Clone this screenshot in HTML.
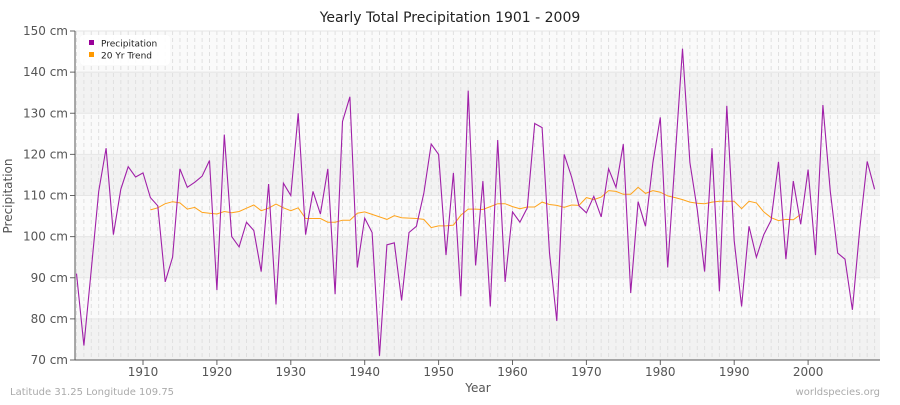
<!DOCTYPE html>
<html><head><meta charset="utf-8">
<style>
body{margin:0;background:#fff;font-family:"Liberation Sans","DejaVu Sans",sans-serif;}
svg text{font-family:"DejaVu Sans","Liberation Sans",sans-serif;}
</style></head>
<body>
<svg id="chart" width="900" height="400" viewBox="0 0 900 400">
<text x="450" y="22" text-anchor="middle" font-size="14" fill="#222">Yearly Total Precipitation 1901 - 2009</text>
<g id="bands"></g>
<g id="grid"></g>
<g id="axes"></g>
<g id="series"></g>
<text x="12" y="196" transform="rotate(-90 12 196)" text-anchor="middle" font-size="12" fill="#555">Precipitation</text>
<text x="478" y="392" text-anchor="middle" font-size="12" fill="#555">Year</text>
<text x="10" y="395" font-size="10" fill="#aaa">Latitude 31.25 Longitude 109.75</text>
<text x="880" y="395" text-anchor="end" font-size="10" fill="#aaa">worldspecies.org</text>
<g>
<rect x="80" y="35" width="90" height="30" rx="4" fill="#fff" opacity="0.9"/>
<rect x="89" y="40" width="5" height="5" fill="#990099"/>
<text x="101" y="46.5" font-size="9" fill="#222">Precipitation</text>
<rect x="89" y="52" width="5" height="5" fill="#ff9900"/>
<text x="101" y="58.5" font-size="9" fill="#222">20 Yr Trend</text>
</g>
</svg>
<script>
const yTicks=[70,80,90,100,110,120,130,140,150];
const xTicks=[1910,1920,1930,1940,1950,1960,1970,1980,1990,2000];
const precipValues=[91,73.5,92,111,121.5,100.5,111.5,117,114.5,115.5,109.5,107.5,89,95,116.5,112,113.2,114.7,118.5,87,124.8,100,97.5,103.5,101.5,91.5,112.8,83.5,113,110,130,100.5,111,105.5,116.5,86,128,134,92.5,104.5,101,71,98,98.5,84.5,101,102.5,110.5,122.5,120,95.5,115.5,85.5,135.5,93,113.5,83,123.5,89,106,103.5,107,127.5,126.5,96,79.5,120,114.5,107.5,105.8,109.8,104.8,116.5,112,122.5,86.3,108.5,102.5,118,129,92.5,119,145.7,118,106.5,91.5,121.5,86.7,131.8,99,83,102.5,95,100.5,104,118.2,94.5,113.5,103,116.3,95.5,132,111,96,94.5,82.2,102,118.3,111.5];
const trendStart=1911;
const trendValues=[106.5,107,108,108.5,108.2,106.7,107.1,105.9,105.7,105.5,106.1,105.8,106.1,106.9,107.7,106.3,106.9,107.9,107,106.3,107,104.4,104.4,104.4,103.5,103.5,104,104,105.7,106,105.4,104.8,104.2,105.1,104.6,104.5,104.4,104.2,102.2,102.6,102.6,102.8,105.2,106.7,106.7,106.6,107.3,108,108,107.3,106.8,107.2,107.2,108.4,107.8,107.6,107.1,107.7,107.6,109.5,109,109.6,111.2,111,110.3,110.3,112,110.5,111.2,110.8,109.9,109.5,109,108.4,108.1,108,108.4,108.6,108.6,108.6,106.8,108.6,108.2,106,104.6,103.9,104.2,104.1,105.4];
const startYear=1901;
const L=75,R=880,T=31,B=360;
const x=yr=>143+(yr-1910)*7.39;
const y=v=>B-(v-70)*(B-T)/80;
const NS='http://www.w3.org/2000/svg';
function mk(tag,attrs,parent){const e=document.createElementNS(NS,tag);for(const k in attrs)e.setAttribute(k,attrs[k]);parent.appendChild(e);return e;}
const bands=document.getElementById('bands'),grid=document.getElementById('grid'),axes=document.getElementById('axes'),series=document.getElementById('series');
mk('rect',{x:L,y:T,width:R-L,height:B-T,fill:'#fafafa'},bands);
for(let i=0;i<yTicks.length-1;i++){
  if(i%2===0){const r=mk('rect',{x:L,y:y(yTicks[i+1]),width:R-L,height:y(yTicks[i])-y(yTicks[i+1]),fill:'#f2f2f2'},bands);
  
  }
}
for(let yr=startYear;yr<=2009;yr++){
  mk('line',{x1:x(yr),x2:x(yr),y1:T,y2:B,stroke:'#e0e0e0','stroke-width':1,'stroke-dasharray':'4,3'},grid);
}
yTicks.forEach(v=>{
  mk('line',{x1:L,x2:R,y1:y(v),y2:y(v),stroke:'#e6e6e6','stroke-width':1},grid);
  mk('line',{x1:L-5,x2:L,y1:y(v),y2:y(v),stroke:'#666'},axes);
  const t=mk('text',{x:L-7,y:y(v)+4,'text-anchor':'end','font-size':12,fill:'#555'},axes);
  t.textContent=v+' cm';
  
  
});
xTicks.forEach(v=>{
  mk('line',{x1:x(v),x2:x(v),y1:B,y2:B+5,stroke:'#666'},axes);
  const t=mk('text',{x:x(v),y:B+16,'text-anchor':'middle','font-size':12,fill:'#555'},axes);
  t.textContent=v;
  
  
});
mk('line',{x1:L,x2:L,y1:T,y2:B,stroke:'#555'},axes);
mk('line',{x1:L,x2:R,y1:B,y2:B,stroke:'#555'},axes);
const tp=trendValues.map((v,i)=>x(trendStart+i).toFixed(1)+','+y(v).toFixed(1)).join(' ');
const tl=mk('polyline',{points:tp,fill:'none',stroke:'#ffa31a','stroke-width':1},series);


const pp=precipValues.map((v,i)=>x(startYear+i).toFixed(1)+','+y(v).toFixed(1)).join(' ');
const pl=mk('polyline',{points:pp,fill:'none',stroke:'#a020a8','stroke-width':1.1},series);


</script>
</body></html>
